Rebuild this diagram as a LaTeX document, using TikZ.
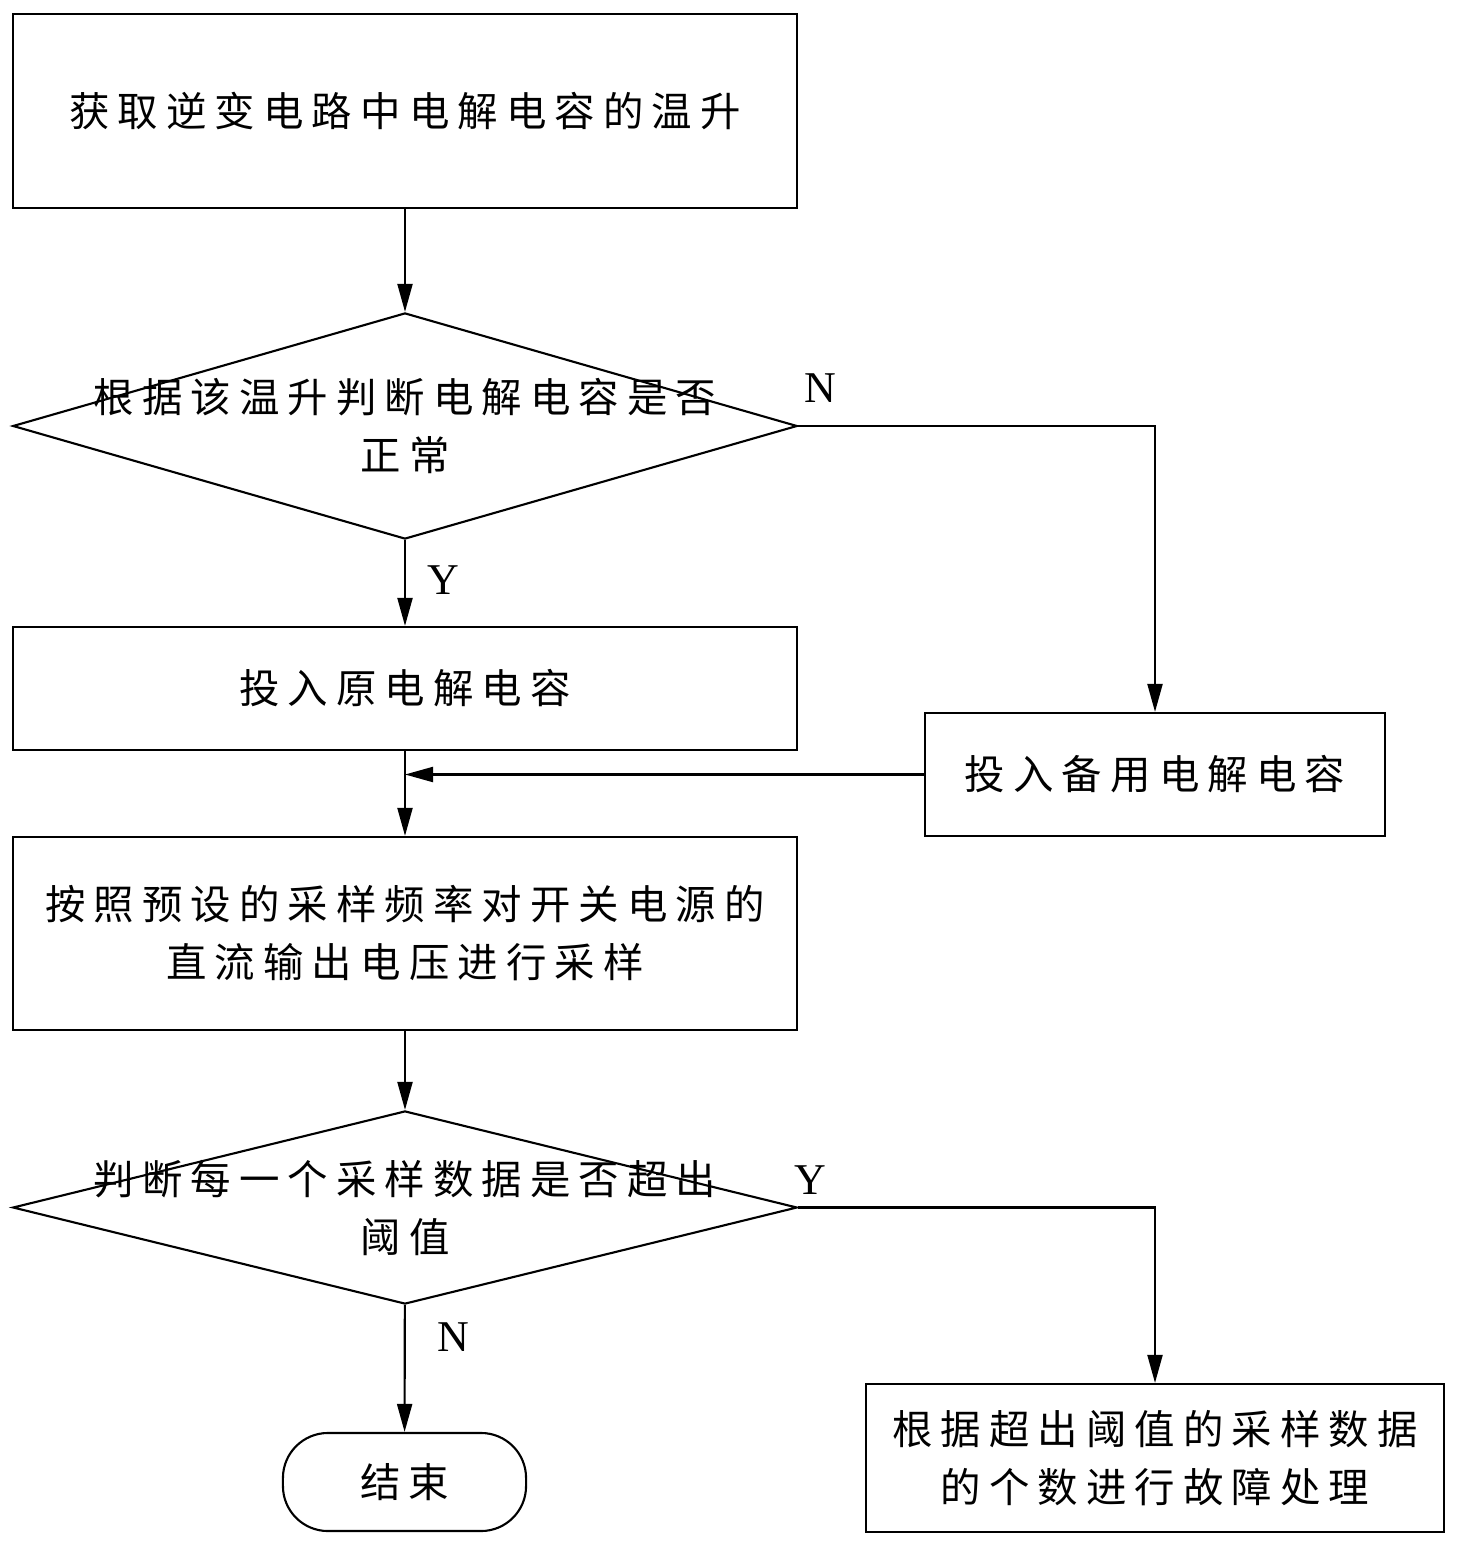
\documentclass[tikz,border=0pt]{standalone}
\usepackage{fontspec}
\newfontfamily\cjk[LetterSpace=20]{Noto Sans CJK SC}
\newfontfamily\lat{Liberation Serif}
\usetikzlibrary{positioning}
\usetikzlibrary{shapes.geometric}
\usetikzlibrary{arrows.meta}

\begin{document}
\begin{tikzpicture}[x=0.01cm, y=-0.01cm, line width=0.6pt,
        every node/.style={font=\cjk\fontsize{11.5}{16.5}\selectfont},
        stepbox/.style={draw, rectangle, inner sep=0pt},
        decision/.style={draw, diamond, inner sep=0pt},
        yesno/.style={font=\lat\fontsize{12.5}{14}\selectfont, inner sep=0pt},
        flow/.style={-{Triangle[length=0.28cm, width=0.15cm]}}]
                \useasboundingbox (0,0) rectangle (1459,1549);

                % Steps
                \node[stepbox, minimum width=7.84cm, minimum height=1.94cm] (temp) at (405,111) {获取逆变电路中电解电容的温升};
                \node[decision, minimum width=7.84cm, minimum height=2.26cm] (checkcap) at (405,426) {};
                \node[align=center] (checkcaptext) at (405,426) {根据该温升判断电解电容是否\\正常};
                \node[stepbox, minimum width=7.84cm, minimum height=1.23cm] (origcap) at (405,688.5) {投入原电解电容};
                \node[stepbox, minimum width=4.60cm, minimum height=1.23cm] (sparecap) at (1155,774.5) {投入备用电解电容};
                \node[stepbox, minimum width=7.84cm, minimum height=1.93cm, align=center] (sample) at (405,933.5) {按照预设的采样频率对开关电源的\\直流输出电压进行采样};
                \node[decision, minimum width=7.84cm, minimum height=1.93cm] (checkdata) at (405,1207.5) {};
                \node[align=center] (checkdatatext) at (405,1208) {判断每一个采样数据是否超出\\阈值};
                \node[draw, rectangle, rounded corners=0.45cm, minimum width=2.43cm, minimum height=0.98cm] (stop) at (404.5,1482) {结束};
                \node[stepbox, minimum width=5.78cm, minimum height=1.48cm, align=center] (fault) at (1155,1458) {根据超出阈值的采样数据\\的个数进行故障处理};

                % Labels
                \node[yesno] (capno) at (820,388) {N};
                \node[yesno] (capyes) at (443,580) {Y};
                \node[yesno] (datayes) at (810,1180) {Y};
                \node[yesno] (datano) at (453,1337) {N};

                % Connectors
                \coordinate (merge) at (405,774.5);
                \draw[flow] (temp) -- (checkcap);
                \draw[flow] (checkcap) -- (origcap);
                \draw[flow] (checkcap.east) -| (sparecap.north);
                \draw[flow] (sparecap.west) -- (merge);
                \draw[flow] (origcap) -- (sample);
                \draw[flow] (sample) -- (checkdata);
                \draw[flow] (checkdata.east) -| (fault.north);
                \draw[flow] (checkdata) -- (stop);
\end{tikzpicture}
\end{document}
